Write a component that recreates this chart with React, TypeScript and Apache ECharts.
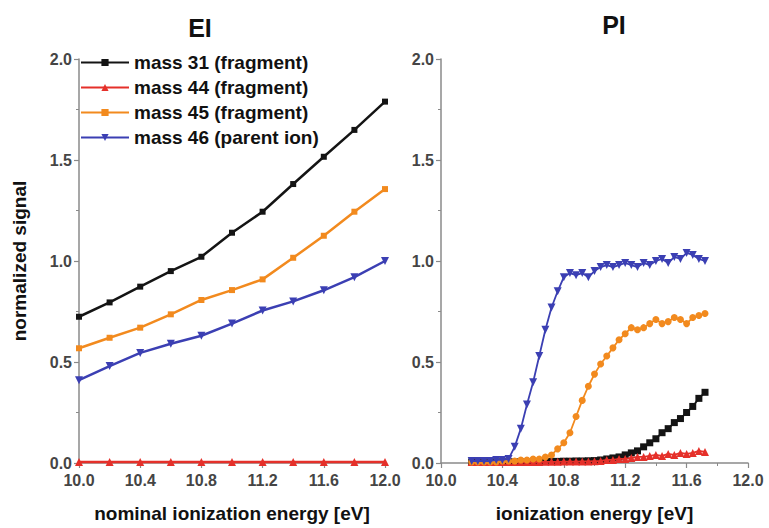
import React, { useEffect, useRef } from "react";
import * as echarts from "echarts";

const seriesNames = ["mass 31 (fragment)", "mass 44 (fragment)", "mass 45 (fragment)", "mass 46 (parent ion)"];
const seriesColors = ["#141414", "#e5302a", "#f28a1e", "#3b3fb3"];
const xTickLabels = ["10.0", "10.4", "10.8", "11.2", "11.6", "12.0"];
const yTickLabels = ["0.0", "0.5", "1.0", "1.5", "2.0"];

// EI panel (nominal ionization energy)
const eiEnergy = [10.0, 10.2, 10.4, 10.6, 10.8, 11.0, 11.2, 11.4, 11.6, 11.8, 12.0];
const eiMass31 = [0.724, 0.795, 0.873, 0.95, 1.021, 1.14, 1.244, 1.381, 1.516, 1.649, 1.789];
const eiMass44 = [0.005, 0.005, 0.005, 0.005, 0.005, 0.005, 0.005, 0.005, 0.005, 0.005, 0.005];
const eiMass45 = [0.568, 0.62, 0.67, 0.736, 0.807, 0.856, 0.909, 1.016, 1.125, 1.244, 1.356];
const eiMass46 = [0.41, 0.48, 0.545, 0.59, 0.63, 0.69, 0.755, 0.8, 0.855, 0.92, 1.0];

// PI panel (ionization energy)
const piEnergy = [
  10.2, 10.24, 10.28, 10.32, 10.36, 10.4, 10.44, 10.48, 10.52, 10.56,
  10.6, 10.64, 10.68, 10.72, 10.76, 10.8, 10.84, 10.88, 10.92, 10.96,
  11.0, 11.04, 11.08, 11.12, 11.16, 11.2, 11.24, 11.28, 11.32, 11.36,
  11.4, 11.44, 11.48, 11.52, 11.56, 11.6, 11.64, 11.68, 11.72,
];
const piMass31 = [
  0.005, 0.005, 0.005, 0.005, 0.005, 0.005, 0.005, 0.005, 0.005, 0.006,
  0.006, 0.007, 0.007, 0.008, 0.008, 0.009, 0.009, 0.01, 0.01, 0.011,
  0.012, 0.015, 0.02, 0.025, 0.03, 0.04, 0.05, 0.06, 0.08, 0.1,
  0.12, 0.15, 0.17, 0.2, 0.22, 0.25, 0.28, 0.32, 0.35,
];
const piMass44 = [
  0.005, 0.005, 0.005, 0.005, 0.005, 0.005, 0.005, 0.005, 0.005, 0.005,
  0.005, 0.005, 0.006, 0.006, 0.006, 0.007, 0.007, 0.007, 0.008, 0.008,
  0.009, 0.01, 0.015, 0.015, 0.02, 0.02, 0.025, 0.03, 0.03, 0.035,
  0.04, 0.035, 0.045, 0.04, 0.05, 0.045, 0.05, 0.06, 0.055,
];
const piMass45 = [
  0.005, 0.005, 0.005, 0.005, 0.005, 0.01, 0.01, 0.01, 0.015, 0.015,
  0.02, 0.02, 0.03, 0.04, 0.07, 0.1, 0.15, 0.23, 0.31, 0.38,
  0.44, 0.49, 0.53, 0.57, 0.61, 0.64, 0.67, 0.66, 0.67, 0.69,
  0.71, 0.69, 0.7, 0.72, 0.71, 0.69, 0.72, 0.73, 0.74,
];
const piMass46 = [
  0.01, 0.01, 0.01, 0.01, 0.015, 0.015, 0.02, 0.08, 0.17, 0.29,
  0.4, 0.53, 0.66, 0.77, 0.85, 0.92, 0.94, 0.93, 0.94, 0.92,
  0.95, 0.97, 0.98, 0.97, 0.98, 0.99, 0.98, 0.97, 0.99, 0.98,
  1.0, 1.01, 0.99, 1.02, 1.01, 1.04, 1.03, 1.01, 1.0,
];

const FONT = "'Liberation Sans', Arial, Helvetica, sans-serif";

export default function App() {
  const ref = useRef<HTMLDivElement>(null);

  useEffect(() => {
    if (!ref.current) return;
    const chart = echarts.init(ref.current, null, { renderer: "svg" });

    const symbols = ["rect", "triangle", "rect", "triangle"];
    const rotates = [0, 0, 0, 180];
    const eiSets = [eiMass31, eiMass44, eiMass45, eiMass46];
    const piSets = [piMass31, piMass44, piMass45, piMass46];

    const xAxisBase = (gridIndex: number, name: string) => ({
      type: "value",
      gridIndex,
      min: 10,
      max: 12,
      interval: 0.4,
      name,
      nameLocation: "middle",
      nameGap: 41,
      nameTextStyle: { fontFamily: FONT, fontSize: 19, fontWeight: "bold", color: "#111" },
      axisLine: { show: true, onZero: false, lineStyle: { color: "#8a8a8a", width: 1.5 } },
      axisTick: { show: true, length: 5, lineStyle: { color: "#8a8a8a", width: 1.2 } },
      minorTick: { show: true, splitNumber: 2, length: 3, lineStyle: { color: "#8a8a8a", width: 1 } },
      splitLine: { show: false },
      minorSplitLine: { show: false },
      axisLabel: {
        fontFamily: FONT,
        fontSize: 16,
        fontWeight: "bold",
        color: "#454545",
        margin: 9,
        formatter: (v: number) => {
          const s = v.toFixed(1);
          return xTickLabels.includes(s) ? s : "";
        },
      },
    });

    const yAxisBase = (gridIndex: number, name: string) => ({
      type: "value",
      gridIndex,
      min: 0,
      max: 2,
      interval: 0.5,
      name,
      nameLocation: "middle",
      nameGap: 50,
      nameTextStyle: { fontFamily: FONT, fontSize: 19, fontWeight: "bold", color: "#111" },
      axisLine: { show: true, lineStyle: { color: "#8a8a8a", width: 1.5 } },
      axisTick: { show: true, length: 5, lineStyle: { color: "#8a8a8a", width: 1.2 } },
      minorTick: { show: true, splitNumber: 2, length: 3, lineStyle: { color: "#8a8a8a", width: 1 } },
      splitLine: { show: false },
      minorSplitLine: { show: false },
      axisLabel: {
        fontFamily: FONT,
        fontSize: 16,
        fontWeight: "bold",
        color: "#454545",
        margin: 7,
        formatter: (v: number) => {
          const s = v.toFixed(1);
          return yTickLabels.includes(s) ? s : "";
        },
      },
    });

    const series: any[] = [];
    seriesNames.forEach((name, i) => {
      series.push({
        name,
        type: "line",
        xAxisIndex: 0,
        yAxisIndex: 0,
        data: eiEnergy.map((x, j) => [x, eiSets[i][j]]),
        symbol: symbols[i],
        symbolRotate: rotates[i],
        symbolSize: i === 1 || i === 3 ? 8 : 6,
        showAllSymbol: true,
        clip: false,
        lineStyle: { color: seriesColors[i], width: 2.5 },
        itemStyle: { color: seriesColors[i] },
        z: 2 + i,
      });
    });
    seriesNames.forEach((name, i) => {
      series.push({
        name,
        type: "line",
        xAxisIndex: 1,
        yAxisIndex: 1,
        data: piEnergy.map((x, j) => [x, piSets[i][j]]),
        symbol: i === 2 ? "circle" : symbols[i],
        symbolRotate: rotates[i],
        symbolSize: i === 1 || i === 3 ? 8 : 7,
        showAllSymbol: true,
        clip: false,
        lineStyle: { color: seriesColors[i], width: 1.8 },
        itemStyle: { color: seriesColors[i] },
        z: 2 + i,
      });
    });

    chart.setOption({
      animation: false,
      backgroundColor: "#ffffff",
      grid: [
        { left: 79, top: 59, width: 306, height: 404, containLabel: false },
        { left: 441, top: 59, width: 307, height: 404, containLabel: false },
      ],
      xAxis: [
        xAxisBase(0, "nominal ionization energy [eV]"),
        xAxisBase(1, "ionization energy [eV]"),
      ],
      yAxis: [yAxisBase(0, "normalized signal"), yAxisBase(1, "")],
      legend: {
        data: seriesNames,
        orient: "vertical",
        left: 80,
        top: 52,
        itemWidth: 48,
        itemHeight: 9,
        itemGap: 4,
        padding: 0,
        selectedMode: false,
        textStyle: { fontFamily: FONT, fontSize: 19, fontWeight: "bold", color: "#111", lineHeight: 21 },
      },
      graphic: [
        {
          type: "text",
          x: 200,
          y: 28,
          style: {
            text: "EI",
            fontFamily: FONT,
            fontSize: 25,
            fontWeight: "bold",
            fill: "#111",
            align: "center",
            verticalAlign: "middle",
          },
        },
        {
          type: "text",
          x: 614,
          y: 25,
          style: {
            text: "PI",
            fontFamily: FONT,
            fontSize: 25,
            fontWeight: "bold",
            fill: "#111",
            align: "center",
            verticalAlign: "middle",
          },
        },
      ],
      series,
    });

    return () => chart.dispose();
  }, []);

  return (
    <div
      ref={ref}
      style={{ position: "fixed", left: 0, top: 0, width: 769, height: 528, background: "#fff" }}
    />
  );
}
